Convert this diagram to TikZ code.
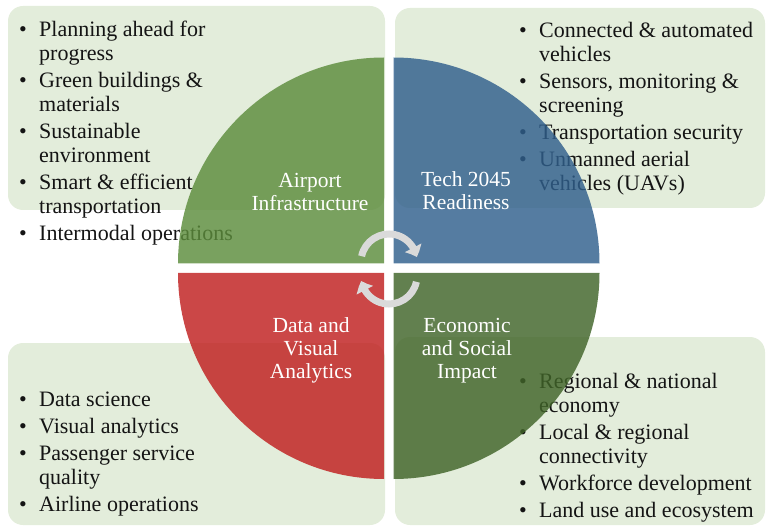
\documentclass[tikz,border=0pt]{standalone}
\usepackage{fontspec}
\setmainfont{Liberation Serif}
\usetikzlibrary{arrows.meta,bending}
\definecolor{boxgreen}{RGB}{227,237,219}
\definecolor{qgreen}{RGB}{92,140,60}
\definecolor{qblue}{RGB}{48,95,140}
\definecolor{qred}{RGB}{192,30,30}
\definecolor{qdark}{RGB}{64,100,40}
\definecolor{arrowgray}{RGB}{218,218,218}
\newcommand{\bl}{\textbullet}
\begin{document}
\begin{tikzpicture}[x=1bp,y=-1bp,
  panel/.style={fill=boxgreen, rounded corners=15bp},
  quad/.style={fill opacity=0.82},
  listtext/.style={anchor=base west, inner sep=0pt, font=\fontsize{22bp}{24bp}\selectfont, text=black!92},
  qlabel/.style={anchor=base, inner sep=0pt, font=\fontsize{21.5bp}{23bp}\selectfont, text=white},
  cyc/.style={draw=arrowgray, line width=7bp, -{Triangle[width=18bp,length=10bp,bend]}}
]
\useasboundingbox (0,0) rectangle (766,527);
% panels
\fill[panel] (8,6) rectangle (385,210);
\fill[panel] (395,8) rectangle (765,208);
\fill[panel] (8,343) rectangle (385,525);
\fill[panel] (395,337) rectangle (765,525);
% lists
\node[listtext] (tl) at (19,37) {\begin{tabular}[t]{@{}p{20bp}@{}l@{}}
\bl & Planning ahead for\\ & progress\\[3bp]
\bl & Green buildings \&\\ & materials\\[3bp]
\bl & Sustainable\\ & environment\\[3bp]
\bl & Smart \& efficient\\ & transportation\\[3bp]
\bl & Intermodal operations
\end{tabular}};
\node[listtext] (tr) at (519,38) {\begin{tabular}[t]{@{}p{20bp}@{}l@{}}
\bl & Connected \& automated\\ & vehicles\\[3bp]
\bl & Sensors, monitoring \&\\ & screening\\[3bp]
\bl & Transportation security\\[3bp]
\bl & Unmanned aerial\\ & vehicles (UAVs)
\end{tabular}};
\node[listtext] (bl) at (19,406) {\begin{tabular}[t]{@{}p{20bp}@{}l@{}}
\bl & Data science\\[3bp]
\bl & Visual analytics\\[3bp]
\bl & Passenger service\\ & quality\\[3bp]
\bl & Airline operations
\end{tabular}};
\node[listtext] (br) at (519,388) {\begin{tabular}[t]{@{}p{20bp}@{}l@{}}
\bl & Regional \& national\\ & economy\\[3bp]
\bl & Local \& regional\\ & connectivity\\[3bp]
\bl & Workforce development\\[3bp]
\bl & Land use and ecosystem
\end{tabular}};
% quadrants
\fill[qgreen,quad] (384,263.5) -- ++(180:206) arc[start angle=180,end angle=270,radius=206] -- cycle;
\fill[qblue,quad] (393.5,263.5) -- ++(270:206) arc[start angle=270,end angle=360,radius=206] -- cycle;
\fill[qdark,quad] (393.5,273) -- ++(0:206) arc[start angle=0,end angle=90,radius=206] -- cycle;
\fill[qred,quad] (384,273) -- ++(90:206) arc[start angle=90,end angle=180,radius=206] -- cycle;
% labels
\node[qlabel] (ai) at (310,188) {\begin{tabular}[t]{@{}c@{}}Airport\\Infrastructure\end{tabular}};
\node[qlabel] (tech) at (466,187) {\begin{tabular}[t]{@{}c@{}}Tech 2045\\Readiness\end{tabular}};
\node[qlabel] (dva) at (311,332) {\begin{tabular}[t]{@{}c@{}}Data and\\Visual\\Analytics\end{tabular}};
\node[qlabel] (esi) at (467,332) {\begin{tabular}[t]{@{}c@{}}Economic\\and Social\\Impact\end{tabular}};
% cycle arrows
\draw[cyc] (389,262) ++(192:28) arc[start angle=192,end angle=350,radius=28];
\draw[cyc] (389,276) ++(12:28) arc[start angle=12,end angle=170,radius=28];
\end{tikzpicture}
\end{document}
